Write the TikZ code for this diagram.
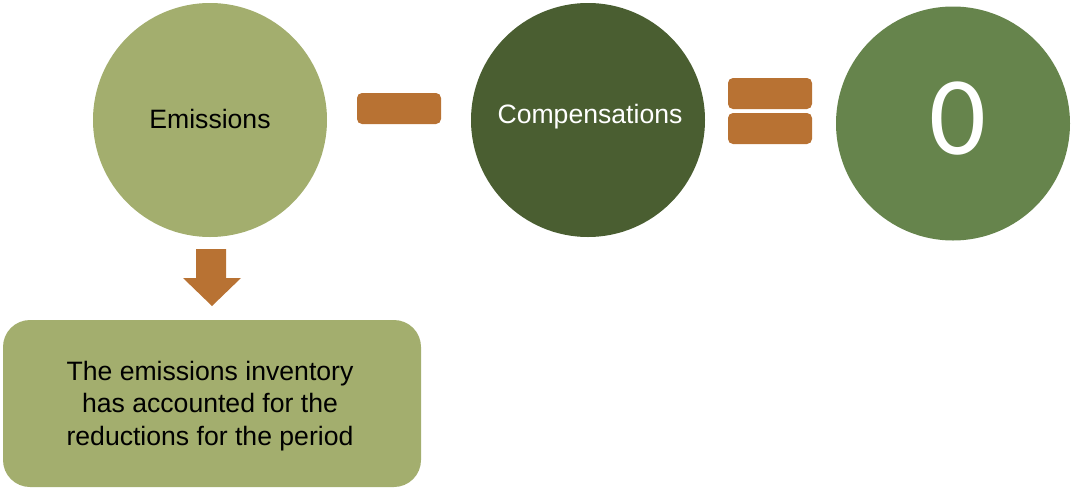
\documentclass[tikz,border=0pt]{standalone}
\usepackage{fontspec}
\setmainfont{Liberation Sans}
\newfontfamily\digitfont{Carlito}
\definecolor{olivelight}{HTML}{A3AE6E}
\definecolor{greendark}{HTML}{4A5E31}
\definecolor{greenmid}{HTML}{66844C}
\definecolor{copper}{HTML}{B87233}
\begin{document}
\begin{tikzpicture}[x=1pt,y=-1pt,
  disc/.style={circle,minimum size=234pt,inner sep=0pt},
  label/.style={inner sep=0pt,font=\fontsize{26.6}{32.7}\selectfont},
  bar/.style={fill=copper,rounded corners=5pt}]
\useasboundingbox (0,0) rectangle (1072,488);
% three discs of the equation
\node[disc,fill=olivelight] (emis) at (210,120) {};
\node[disc,fill=greendark] (comp) at (588,120) {};
\node[disc,fill=greenmid] (zero) at (953,123.5) {};
\node[label] at (210,119) {Emissions};
\node[label,text=white] at (590,117) {Compensations};
\node[inner sep=0pt,text=white,font=\digitfont\fontsize{112}{112}\selectfont] at (958,118.5) {0};
% minus and equals signs
\fill[bar] (357,93) rectangle (441,124);
\fill[bar] (728,78) rectangle (812,109);
\fill[bar] (728,113) rectangle (812,144);
% down arrow
\fill[copper] (196,249) -- (226,249) -- (226,278) -- (241,278) -- (212,306)
  -- (183,278) -- (196,278) -- cycle;
% explanation box
\fill[olivelight,rounded corners=27pt] (3,320) rectangle (421,487);
\node[label,align=center] (note) at (210,406) {The emissions inventory\\has accounted for the\\reductions for the period};
\end{tikzpicture}
\end{document}
